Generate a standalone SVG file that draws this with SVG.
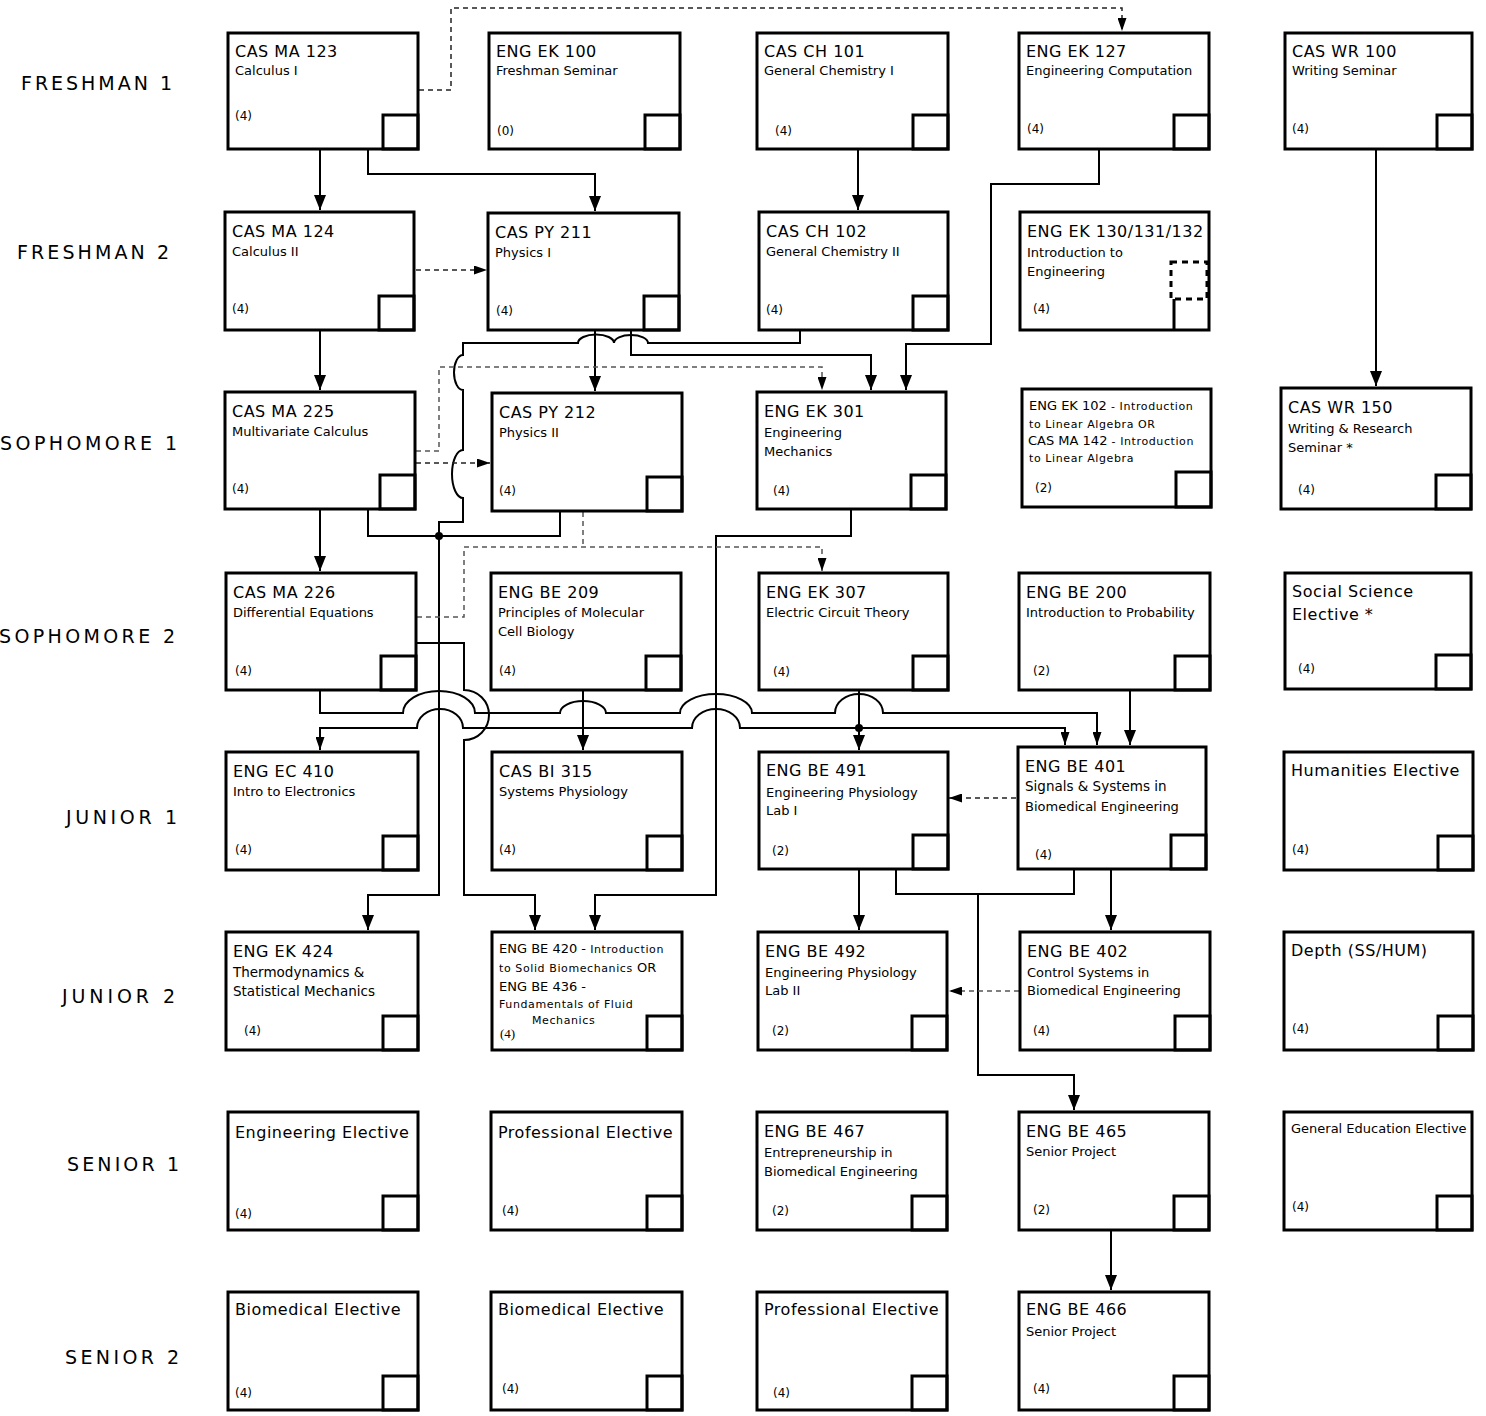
<svg xmlns="http://www.w3.org/2000/svg" width="1486" height="1416" viewBox="0 0 1486 1416">
<style>
.box{fill:#fff;stroke:#000;stroke-width:3}
.sq{fill:none;stroke:#000;stroke-width:3}
.dsq{fill:none;stroke:#000;stroke-width:3;stroke-dasharray:6 5}
text{font-family:"DejaVu Sans",Verdana,sans-serif;fill:#000}
.t{font-size:16px;letter-spacing:0.5px}
.s{font-size:13px}
.m{font-size:13px}
.x{font-size:11px;letter-spacing:0.6px}
.c{font-size:12px}
.cs{font-family:"Liberation Serif",serif;font-size:13px}
.lbl{font-size:19px}
.ln{fill:none;stroke:#000;stroke-width:2}
.dl{fill:none;stroke:#222;stroke-width:1.5;stroke-dasharray:5 4}
.dg{fill:none;stroke:#555;stroke-width:1.5;stroke-dasharray:5 4}
</style>
<defs>
<marker id="a" viewBox="0 0 15 12" refX="15" refY="6" markerWidth="15" markerHeight="12" markerUnits="userSpaceOnUse" orient="auto"><path d="M0,0 L15,6 L0,12 z" fill="#000"/></marker>
<marker id="s" viewBox="0 0 13 9" refX="13" refY="4.5" markerWidth="13" markerHeight="9" markerUnits="userSpaceOnUse" orient="auto"><path d="M0,0 L13,4.5 L0,9 z" fill="#000"/></marker>
</defs>
<rect x="0" y="0" width="1486" height="1416" fill="#fff"/>

<g id="labels">
<text class="lbl" x="21" y="90" textLength="151" lengthAdjust="spacing">FRESHMAN 1</text>
<text class="lbl" x="17" y="259" textLength="152" lengthAdjust="spacing">FRESHMAN 2</text>
<text class="lbl" x="0" y="450" textLength="177" lengthAdjust="spacing">SOPHOMORE 1</text>
<text class="lbl" x="-1" y="643" textLength="176" lengthAdjust="spacing">SOPHOMORE 2</text>
<text class="lbl" x="66" y="824" textLength="111" lengthAdjust="spacing">JUNIOR 1</text>
<text class="lbl" x="62" y="1003" textLength="113" lengthAdjust="spacing">JUNIOR 2</text>
<text class="lbl" x="67" y="1171" textLength="112" lengthAdjust="spacing">SENIOR 1</text>
<text class="lbl" x="65" y="1364" textLength="114" lengthAdjust="spacing">SENIOR 2</text>
</g>

<g id="connectors">
<path class="dl" d="M419 90 H451 V8 H1122 V31" marker-end="url(#s)"/>
<path class="ln" d="M320 150 V210" marker-end="url(#a)"/>
<path class="ln" d="M368 150 V174 H595 V211" marker-end="url(#a)"/>
<path class="ln" d="M858 150 V210" marker-end="url(#a)"/>
<path class="ln" d="M1099 150 V184 H991 V344 H906 V390" marker-end="url(#a)"/>
<path class="ln" d="M1376 150 V386" marker-end="url(#a)"/>
<path class="dl" d="M416 270 H487" marker-end="url(#s)"/>
<path class="ln" d="M320 331 V390" marker-end="url(#a)"/>
<path class="ln" d="M595 331 V391" marker-end="url(#a)"/>
<path class="ln" d="M631 331 V355 H871 V390" marker-end="url(#a)"/>
<path class="ln" d="M800 331 V343 H648 A17 8 0 0 0 614 343 A17 8 0 0 0 578 343 H463 V355 A9 17.5 0 0 0 463 390 V450 A11 24 0 0 0 463 498 V522 H439 V895 H368 V930" marker-end="url(#a)"/>
<path class="dg" d="M416 451 H439 V367 H822 V390" marker-end="url(#s)"/>
<path class="dl" d="M416 463 H490" marker-end="url(#s)"/>
<path class="ln" d="M320 510 V571" marker-end="url(#a)"/>
<path class="ln" d="M368 510 V536 H560 V512"/>
<circle cx="439" cy="536" r="4" fill="#000"/>
<path class="ln" d="M851 510 V536 H716 V895 H595 V930" marker-end="url(#a)"/>
<path class="dg" d="M583 512 V547"/>
<path class="dg" d="M417 617 H464 V547 H822 V571" marker-end="url(#s)"/>
<path class="ln" d="M417 643 H464 V690 A25 25 0 0 1 464 740 V895 H535 V930" marker-end="url(#a)"/>
<path class="ln" d="M320 691 V713 H403 A36 22 0 0 1 475 713 H560 A23 12 0 0 1 606 713 H680 A36 19 0 0 1 752 713 H835 A24 19 0 0 1 883 713 H1097 V745" marker-end="url(#s)"/>
<path class="ln" d="M859 728 H740 A24 19 0 0 0 692 728 H463 A23 19 0 0 0 417 728 H320 V750" marker-end="url(#s)"/>
<path class="ln" d="M859 728 H1065 V745" marker-end="url(#s)"/>
<path class="ln" d="M859 691 V750" marker-end="url(#a)"/>
<circle cx="859" cy="728" r="4" fill="#000"/>
<path class="ln" d="M583 691 V750" marker-end="url(#a)"/>
<path class="ln" d="M1130 691 V745" marker-end="url(#a)"/>
<path class="dl" d="M1016 798 H949" marker-end="url(#s)"/>
<path class="ln" d="M859 870 V930" marker-end="url(#a)"/>
<path class="ln" d="M1111 870 V930" marker-end="url(#a)"/>
<path class="ln" d="M896 870 V894 H1074 V870"/>
<path class="ln" d="M978 894 V1075 H1074 V1110" marker-end="url(#a)"/>
<path class="dg" d="M1019 991 H949" marker-end="url(#s)"/>
<path class="ln" d="M1111 1231 V1290" marker-end="url(#a)"/>
</g>

<g id="n-ma123"><rect class="box" x="228" y="33" width="190" height="116"/><rect class="sq" x="383" y="115" width="35" height="34"/><text class="t" x="235" y="57">CAS MA 123</text><text class="s" x="235" y="75">Calculus I</text><text class="c" x="235" y="120">(4)</text></g>
<g id="n-ek100"><rect class="box" x="489" y="33" width="191" height="116"/><rect class="sq" x="645" y="115" width="35" height="34"/><text class="t" x="496" y="57">ENG EK 100</text><text class="s" x="496" y="75">Freshman Seminar</text><text class="c" x="497" y="135">(0)</text></g>
<g id="n-ch101"><rect class="box" x="757" y="33" width="191" height="116"/><rect class="sq" x="913" y="115" width="35" height="34"/><text class="t" x="764" y="57">CAS CH 101</text><text class="s" x="764" y="75">General Chemistry I</text><text class="c" x="775" y="135">(4)</text></g>
<g id="n-ek127"><rect class="box" x="1019" y="33" width="190" height="116"/><rect class="sq" x="1174" y="115" width="35" height="34"/><text class="t" x="1026" y="57">ENG EK 127</text><text class="s" x="1026" y="75">Engineering Computation</text><text class="c" x="1027" y="133">(4)</text></g>
<g id="n-wr100"><rect class="box" x="1285" y="33" width="187" height="116"/><rect class="sq" x="1437" y="115" width="35" height="34"/><text class="t" x="1292" y="57">CAS WR 100</text><text class="s" x="1292" y="75">Writing Seminar</text><text class="c" x="1292" y="133">(4)</text></g>

<g id="n-ma124"><rect class="box" x="225" y="212" width="189" height="118"/><rect class="sq" x="379" y="296" width="35" height="34"/><text class="t" x="232" y="237">CAS MA 124</text><text class="s" x="232" y="256">Calculus II</text><text class="c" x="232" y="313">(4)</text></g>
<g id="n-py211"><rect class="box" x="488" y="213" width="191" height="117"/><rect class="sq" x="644" y="296" width="35" height="34"/><text class="t" x="495" y="238">CAS PY 211</text><text class="s" x="495" y="257">Physics I</text><text class="c" x="496" y="315">(4)</text></g>
<g id="n-ch102"><rect class="box" x="759" y="212" width="189" height="118"/><rect class="sq" x="913" y="296" width="35" height="34"/><text class="t" x="766" y="237">CAS CH 102</text><text class="s" x="766" y="256">General Chemistry II</text><text class="c" x="766" y="314">(4)</text></g>
<g id="n-ek130"><rect class="box" x="1020" y="212" width="189" height="118"/><rect class="dsq" x="1171" y="262" width="36" height="37"/><line x1="1174" y1="299" x2="1174" y2="330" stroke="#000" stroke-width="3"/><text class="t" x="1027" y="237">ENG EK 130/131/132</text><text class="s" x="1027" y="257">Introduction to</text><text class="s" x="1027" y="276">Engineering</text><text class="c" x="1033" y="313">(4)</text></g>

<g id="n-ma225"><rect class="box" x="225" y="392" width="190" height="117"/><rect class="sq" x="380" y="475" width="35" height="34"/><text class="t" x="232" y="417">CAS MA 225</text><text class="s" x="232" y="436">Multivariate Calculus</text><text class="c" x="232" y="493">(4)</text></g>
<g id="n-py212"><rect class="box" x="492" y="393" width="190" height="118"/><rect class="sq" x="647" y="477" width="35" height="34"/><text class="t" x="499" y="418">CAS PY 212</text><text class="s" x="499" y="437">Physics II</text><text class="c" x="499" y="495">(4)</text></g>
<g id="n-ek301"><rect class="box" x="757" y="392" width="189" height="117"/><rect class="sq" x="911" y="475" width="35" height="34"/><text class="t" x="764" y="417">ENG EK 301</text><text class="s" x="764" y="437">Engineering</text><text class="s" x="764" y="456">Mechanics</text><text class="c" x="773" y="495">(4)</text></g>
<g id="n-ek102"><rect class="box" x="1022" y="389" width="189" height="118"/><rect class="sq" x="1176" y="472" width="35" height="35"/><text x="1029" y="410"><tspan class="m">ENG EK 102</tspan><tspan class="x"> - Introduction</tspan></text><text class="x" x="1029" y="428">to Linear Algebra OR</text><text x="1028" y="445"><tspan class="m">CAS MA 142</tspan><tspan class="x"> - Introduction</tspan></text><text class="x" x="1029" y="462">to Linear Algebra</text><text class="c" x="1035" y="492">(2)</text></g>
<g id="n-wr150"><rect class="box" x="1281" y="388" width="190" height="121"/><rect class="sq" x="1436" y="475" width="35" height="34"/><text class="t" x="1288" y="413">CAS WR 150</text><text class="s" x="1288" y="433">Writing &amp; Research</text><text class="s" x="1288" y="452">Seminar *</text><text class="c" x="1298" y="494">(4)</text></g>

<g id="n-ma226"><rect class="box" x="226" y="573" width="190" height="117"/><rect class="sq" x="381" y="656" width="35" height="34"/><text class="t" x="233" y="598">CAS MA 226</text><text class="s" x="233" y="617">Differential Equations</text><text class="c" x="235" y="675">(4)</text></g>
<g id="n-be209"><rect class="box" x="491" y="573" width="190" height="117"/><rect class="sq" x="646" y="656" width="35" height="34"/><text class="t" x="498" y="598">ENG BE 209</text><text class="s" x="498" y="617">Principles of Molecular</text><text class="s" x="498" y="636">Cell Biology</text><text class="c" x="499" y="675">(4)</text></g>
<g id="n-ek307"><rect class="box" x="759" y="573" width="189" height="117"/><rect class="sq" x="913" y="656" width="35" height="34"/><text class="t" x="766" y="598">ENG EK 307</text><text class="s" x="766" y="617">Electric Circuit Theory</text><text class="c" x="773" y="676">(4)</text></g>
<g id="n-be200"><rect class="box" x="1019" y="573" width="191" height="117"/><rect class="sq" x="1175" y="656" width="35" height="34"/><text class="t" x="1026" y="598">ENG BE 200</text><text class="s" x="1026" y="617">Introduction to Probability</text><text class="c" x="1033" y="675">(2)</text></g>
<g id="n-ss"><rect class="box" x="1285" y="573" width="186" height="116"/><rect class="sq" x="1436" y="655" width="35" height="34"/><text class="t" x="1292" y="597">Social Science</text><text class="t" x="1292" y="620">Elective  *</text><text class="c" x="1298" y="673">(4)</text></g>

<g id="n-ec410"><rect class="box" x="226" y="752" width="192" height="118"/><rect class="sq" x="383" y="836" width="35" height="34"/><text class="t" x="233" y="777">ENG EC 410</text><text class="s" x="233" y="796">Intro to Electronics</text><text class="c" x="235" y="854">(4)</text></g>
<g id="n-bi315"><rect class="box" x="492" y="752" width="190" height="118"/><rect class="sq" x="647" y="836" width="35" height="34"/><text class="t" x="499" y="777">CAS BI 315</text><text class="s" x="499" y="796">Systems Physiology</text><text class="c" x="499" y="854">(4)</text></g>
<g id="n-be491"><rect class="box" x="759" y="752" width="189" height="117"/><rect class="sq" x="913" y="835" width="35" height="34"/><text class="t" x="766" y="776">ENG BE 491</text><text class="s" x="766" y="797">Engineering Physiology</text><text class="s" x="766" y="815">Lab I</text><text class="c" x="772" y="855">(2)</text></g>
<g id="n-be401"><rect class="box" x="1018" y="747" width="188" height="122"/><rect class="sq" x="1171" y="835" width="35" height="34"/><text class="t" x="1025" y="772">ENG BE 401</text><text class="s" x="1025" y="791" style="font-size:13.5px">Signals &amp; Systems in</text><text class="s" x="1025" y="811">Biomedical Engineering</text><text class="c" x="1035" y="859">(4)</text></g>
<g id="n-hum"><rect class="box" x="1284" y="752" width="189" height="118"/><rect class="sq" x="1438" y="836" width="35" height="34"/><text class="t" x="1291" y="776">Humanities Elective</text><text class="c" x="1292" y="854">(4)</text></g>

<g id="n-ek424"><rect class="box" x="226" y="932" width="192" height="118"/><rect class="sq" x="383" y="1016" width="35" height="34"/><text class="t" x="233" y="957">ENG EK 424</text><text class="s" x="233" y="977" style="font-size:13.5px">Thermodynamics &amp;</text><text class="s" x="233" y="996" style="font-size:13.5px">Statistical Mechanics</text><text class="c" x="244" y="1035">(4)</text></g>
<g id="n-be420"><rect class="box" x="492" y="932" width="190" height="118"/><rect class="sq" x="647" y="1016" width="35" height="34"/><text x="499" y="953"><tspan class="m">ENG BE 420 -</tspan><tspan class="x"> Introduction</tspan></text><text x="499" y="972"><tspan class="x">to Solid Biomechanics</tspan><tspan class="m"> OR</tspan></text><text class="m" x="499" y="991">ENG BE 436 -</text><text class="x" x="499" y="1008">Fundamentals of Fluid</text><text class="x" x="532" y="1024">Mechanics</text><text class="cs" x="500" y="1038">(4)</text></g>
<g id="n-be492"><rect class="box" x="758" y="932" width="189" height="118"/><rect class="sq" x="912" y="1016" width="35" height="34"/><text class="t" x="765" y="957">ENG BE 492</text><text class="s" x="765" y="977">Engineering Physiology</text><text class="s" x="765" y="995">Lab II</text><text class="c" x="772" y="1035">(2)</text></g>
<g id="n-be402"><rect class="box" x="1020" y="932" width="190" height="118"/><rect class="sq" x="1175" y="1016" width="35" height="34"/><text class="t" x="1027" y="957">ENG BE 402</text><text class="s" x="1027" y="977">Control Systems in</text><text class="s" x="1027" y="995">Biomedical Engineering</text><text class="c" x="1033" y="1035">(4)</text></g>
<g id="n-depth"><rect class="box" x="1284" y="932" width="189" height="118"/><rect class="sq" x="1438" y="1016" width="35" height="34"/><text class="t" x="1291" y="956">Depth (SS/HUM)</text><text class="c" x="1292" y="1033">(4)</text></g>

<g id="n-engel"><rect class="box" x="228" y="1112" width="190" height="118"/><rect class="sq" x="383" y="1196" width="35" height="34"/><text class="t" x="235" y="1138">Engineering Elective</text><text class="c" x="235" y="1218">(4)</text></g>
<g id="n-profel"><rect class="box" x="491" y="1112" width="191" height="118"/><rect class="sq" x="647" y="1196" width="35" height="34"/><text class="t" x="498" y="1138">Professional Elective</text><text class="c" x="502" y="1215">(4)</text></g>
<g id="n-be467"><rect class="box" x="757" y="1112" width="190" height="118"/><rect class="sq" x="912" y="1196" width="35" height="34"/><text class="t" x="764" y="1137">ENG BE 467</text><text class="s" x="764" y="1157">Entrepreneurship in</text><text class="s" x="764" y="1176">Biomedical Engineering</text><text class="c" x="772" y="1215">(2)</text></g>
<g id="n-be465"><rect class="box" x="1019" y="1112" width="190" height="118"/><rect class="sq" x="1174" y="1196" width="35" height="34"/><text class="t" x="1026" y="1137">ENG BE 465</text><text class="s" x="1026" y="1156">Senior Project</text><text class="c" x="1033" y="1214">(2)</text></g>
<g id="n-gened"><rect class="box" x="1284" y="1112" width="188" height="118"/><rect class="sq" x="1437" y="1196" width="35" height="34"/><text class="s" x="1291" y="1133">General Education Elective</text><text class="c" x="1292" y="1211">(4)</text></g>

<g id="n-bioel1"><rect class="box" x="228" y="1292" width="190" height="118"/><rect class="sq" x="383" y="1376" width="35" height="34"/><text class="t" x="235" y="1315">Biomedical Elective</text><text class="c" x="235" y="1397">(4)</text></g>
<g id="n-bioel2"><rect class="box" x="491" y="1292" width="191" height="118"/><rect class="sq" x="647" y="1376" width="35" height="34"/><text class="t" x="498" y="1315">Biomedical Elective</text><text class="c" x="502" y="1393">(4)</text></g>
<g id="n-profel2"><rect class="box" x="757" y="1292" width="190" height="118"/><rect class="sq" x="912" y="1376" width="35" height="34"/><text class="t" x="764" y="1315">Professional Elective</text><text class="c" x="773" y="1397">(4)</text></g>
<g id="n-be466"><rect class="box" x="1019" y="1292" width="190" height="118"/><rect class="sq" x="1174" y="1376" width="35" height="34"/><text class="t" x="1026" y="1315">ENG BE 466</text><text class="s" x="1026" y="1336">Senior Project</text><text class="c" x="1033" y="1393">(4)</text></g>
</svg>
